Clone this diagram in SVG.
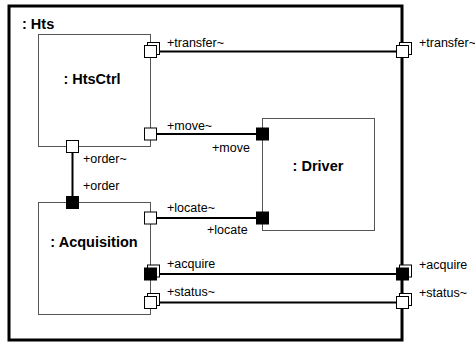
<svg xmlns="http://www.w3.org/2000/svg" width="475" height="343" viewBox="0 0 475 343">
<style>
.frame{fill:none;stroke:#000;stroke-width:3}
.part{fill:#fff;stroke:#555;stroke-width:1}
.port{fill:#fff;stroke:#000;stroke-width:1}
.portf{fill:#000;stroke:#000;stroke-width:1}
.conn{fill:none;stroke:#000;stroke-width:2}
.lbl{font-family:"Liberation Sans",Arial,sans-serif;font-size:12.5px;fill:#000}
.name{font-family:"Liberation Sans",Arial,sans-serif;font-size:14.5px;font-weight:bold;fill:#000}
</style>
<rect width="475" height="343" fill="#fff"/>
<g id="Hts">
<rect class="frame" x="9" y="6" width="393" height="334"/>
<text class="name" x="22" y="29">: Hts</text>
</g>
<g id="connectors">
<line class="conn" x1="156.5" y1="51.5" x2="396.5" y2="51.5"/>
<line class="conn" x1="156.5" y1="134" x2="256.5" y2="134"/>
<line class="conn" x1="72.5" y1="152.5" x2="72.5" y2="196.5"/>
<line class="conn" x1="156.5" y1="218" x2="256.5" y2="218"/>
<line class="conn" x1="156.5" y1="274" x2="396.5" y2="274"/>
<line class="conn" x1="156.5" y1="302.5" x2="396.5" y2="302.5"/>
</g>
<g id="HtsCtrl">
<rect class="part" x="38.5" y="34.5" width="112" height="112"/>
<text class="name" x="92" y="84" text-anchor="middle">: HtsCtrl</text>
<rect class="port" x="147.5" y="42.5" width="12" height="12"/>
<rect class="port" x="144.5" y="45.5" width="12" height="12"/>
<rect class="port" x="144.5" y="128" width="12" height="12"/>
<rect class="port" x="66.5" y="140.5" width="12" height="12"/>
<text class="lbl" x="167" y="46.5">+transfer~</text>
<text class="lbl" x="167" y="130">+move~</text>
<text class="lbl" x="83" y="163">+order~</text>
</g>
<g id="Driver">
<rect class="part" x="262.5" y="118.5" width="112" height="112"/>
<text class="name" x="318" y="171" text-anchor="middle">: Driver</text>
<rect class="portf" x="256.5" y="128" width="12" height="12"/>
<rect class="portf" x="256.5" y="212" width="12" height="12"/>
<text class="lbl" x="212" y="151.5">+move</text>
<text class="lbl" x="207" y="234">+locate</text>
</g>
<g id="Acquisition">
<rect class="part" x="38.5" y="202.5" width="112" height="112"/>
<text class="name" x="94" y="247" text-anchor="middle">: Acquisition</text>
<rect class="portf" x="66.5" y="196.5" width="12" height="12"/>
<rect class="port" x="144.5" y="212" width="12" height="12"/>
<rect class="port" x="147.5" y="265" width="12" height="12"/>
<rect class="portf" x="144.5" y="268" width="12" height="12"/>
<rect class="port" x="147.5" y="293.5" width="12" height="12"/>
<rect class="port" x="144.5" y="296.5" width="12" height="12"/>
<text class="lbl" x="83" y="190">+order</text>
<text class="lbl" x="167" y="212">+locate~</text>
<text class="lbl" x="167" y="268">+acquire</text>
<text class="lbl" x="167" y="296">+status~</text>
</g>
<g id="HtsPorts">
<rect class="port" x="399.5" y="42.5" width="12" height="12"/>
<rect class="port" x="396.5" y="45.5" width="12" height="12"/>
<rect class="port" x="399.5" y="265" width="12" height="12"/>
<rect class="portf" x="396.5" y="268" width="12" height="12"/>
<rect class="port" x="399.5" y="293.5" width="12" height="12"/>
<rect class="port" x="396.5" y="296.5" width="12" height="12"/>
<text class="lbl" x="419" y="46.5">+transfer~</text>
<text class="lbl" x="419" y="269">+acquire</text>
<text class="lbl" x="419" y="297">+status~</text>
</g>
</svg>
